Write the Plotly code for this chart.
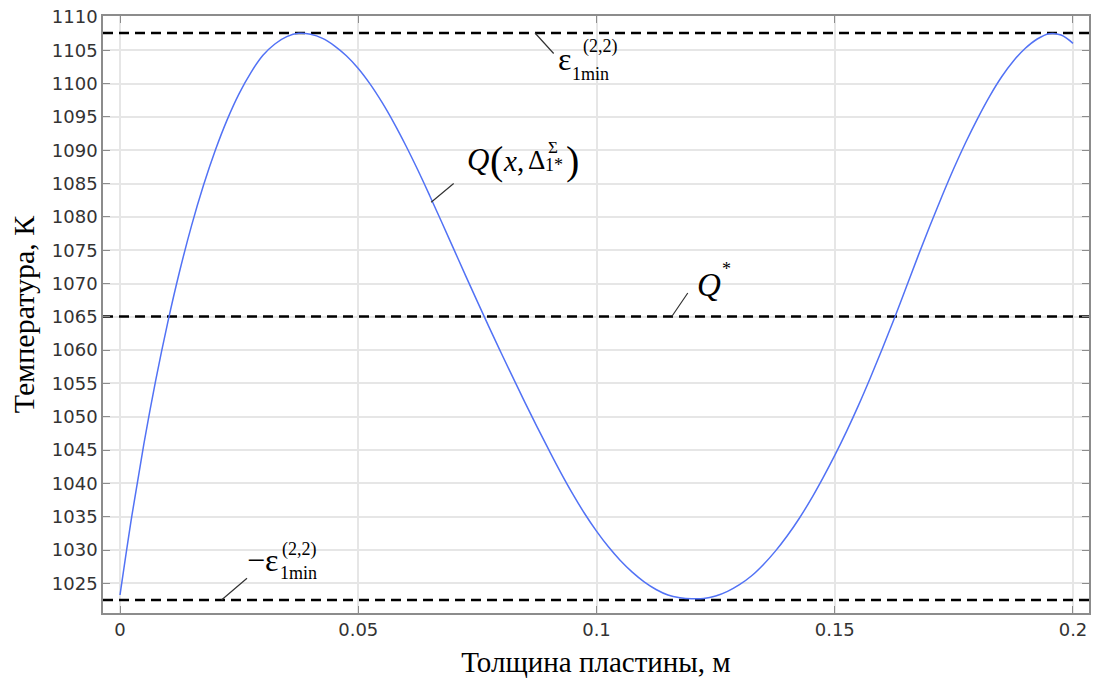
import plotly.graph_objects as go

# ---- data (thickness, m -> temperature, K) ----
# temperatures read every 0.0025 m from 0 to 0.2 m
x_step = 0.0025
t_vals = [1023.25, 1035.2, 1045.9, 1055.5, 1064.1, 1071.8, 1078.65, 1084.7, 1090.0, 1094.6,
          1098.5, 1101.7, 1104.25, 1105.95, 1107.05, 1107.55, 1107.4, 1106.79, 1105.68, 1104.18,
          1102.28, 1099.93, 1097.18, 1094.08, 1090.68, 1087.03, 1083.18, 1079.23, 1075.23, 1071.23,
          1067.28, 1063.38, 1059.58, 1055.83, 1052.13, 1048.53, 1045.03, 1041.63, 1038.43, 1035.48,
          1032.83, 1030.48, 1028.43, 1026.68, 1025.23, 1024.08, 1023.25, 1022.85, 1022.7, 1022.74,
          1023.1, 1023.8, 1024.8, 1026.1, 1027.8, 1029.8, 1032.1, 1034.7, 1037.6, 1040.8,
          1044.2, 1047.85, 1051.75, 1055.9, 1060.25, 1064.75, 1069.45, 1074.15, 1078.7, 1083.1,
          1087.3, 1091.2, 1094.8, 1098.1, 1101.0, 1103.4, 1105.3, 1106.7, 1107.5, 1107.3,
          1106.05]
x_vals = [round(i * x_step, 4) for i in range(len(t_vals))]

eps_upper = 1107.6
q_star = 1065.05
eps_lower = 1022.5

x_range = [-0.00357, 0.20336]
y_range = [1020.55, 1110.15]
x_ticks = [0, 0.05, 0.1, 0.15, 0.2]
x_ticktext = ["0", "0.05", "0.1", "0.15", "0.2"]
y_ticks = list(range(1025, 1111, 5))

x_title = "Толщина пластины, м"
y_title = "Температура, К"

# ---- figure ----
fig = go.Figure()

for level in [eps_upper, q_star, eps_lower]:
    fig.add_trace(go.Scatter(
        x=x_range, y=[level, level], mode="lines",
        line=dict(color="black", width=2.5, dash="10px,6px"),
        hoverinfo="skip", showlegend=False))

fig.add_trace(go.Scatter(
    x=x_vals, y=t_vals, mode="lines",
    line=dict(color="#5272f5", width=1.5, shape="spline", smoothing=1.0),
    showlegend=False))

W, H = 1098, 689
L, R, T, B = 103, 9, 16, 76
PW, PH = W - L - R, H - T - B


def P(px, py):
    return (px - L) / PW, (H - B - py) / PH


SERIF = "Liberation Serif, Times New Roman, serif"
labels = [
    # upper epsilon
    ("ε", 564, 59, 32),
    ("(2,2)", 600, 46, 18),
    ("1min", 590, 74, 18),
    # lower epsilon
    ("−ε", 262, 560, 32),
    ("(2,2)", 299, 549, 18),
    ("1min", 298, 573, 18),
    # Q(x, Δ)
    ("<i>Q</i>", 478, 159, 31),
    ("(", 496, 160, 40),
    ("<i>x</i>,", 513, 161, 29),
    ("Δ", 536, 160, 27),
    ("Σ", 553, 147, 17),
    ("1*", 554, 165, 18),
    (")", 572, 160, 40),
    # Q*
    ("<i>Q</i>", 709, 285, 33),
    ("*", 726, 269, 18),
]
annotations = []
for txt, px, py, fs in labels:
    ax_, ay_ = P(px, py)
    annotations.append(dict(
        text=txt, x=ax_, y=ay_, xref="paper", yref="paper",
        xanchor="center", yanchor="middle", showarrow=False,
        font=dict(family=SERIF, size=fs, color="black")))

# leader lines (head on the mark, tail offset in pixels)
leaders = [
    (0.0871, eps_upper, 20, 22),
    (0.0653, 1082.2, 24, -20),
    (0.1158, q_star, 17, -25),
    (0.0213, eps_lower, 27, -23),
]
for lx, ly, dx, dy in leaders:
    annotations.append(dict(
        text="", x=lx, y=ly, xref="x", yref="y", ax=dx, ay=dy,
        showarrow=True, arrowhead=0, arrowwidth=1.2, arrowcolor="#333333",
        standoff=0, startstandoff=0))

axis_common = dict(
    showline=True, linecolor="#8c8c8c", linewidth=1.5, mirror="ticks",
    ticks="inside", ticklen=7, tickwidth=1.2, tickcolor="#8c8c8c",
    showgrid=True, gridcolor="#e6e6e6", gridwidth=1.5, zeroline=False,
    tickfont=dict(family="DejaVu Sans", size=18, color="#333333"),
    automargin=False,
)

fig.update_layout(
    width=W, height=H,
    margin=dict(l=L, r=R, t=T, b=B),
    paper_bgcolor="white", plot_bgcolor="white",
    xaxis=dict(range=x_range, tickvals=x_ticks, ticktext=x_ticktext,
               title=dict(text=x_title, standoff=12,
                          font=dict(family=SERIF, size=29, color="black")),
               **axis_common),
    yaxis=dict(range=y_range, tickvals=y_ticks,
               title=dict(text=y_title, standoff=8,
                          font=dict(family=SERIF, size=30, color="black")),
               **axis_common),
    annotations=annotations,
)

fig.write_html("out.html")
